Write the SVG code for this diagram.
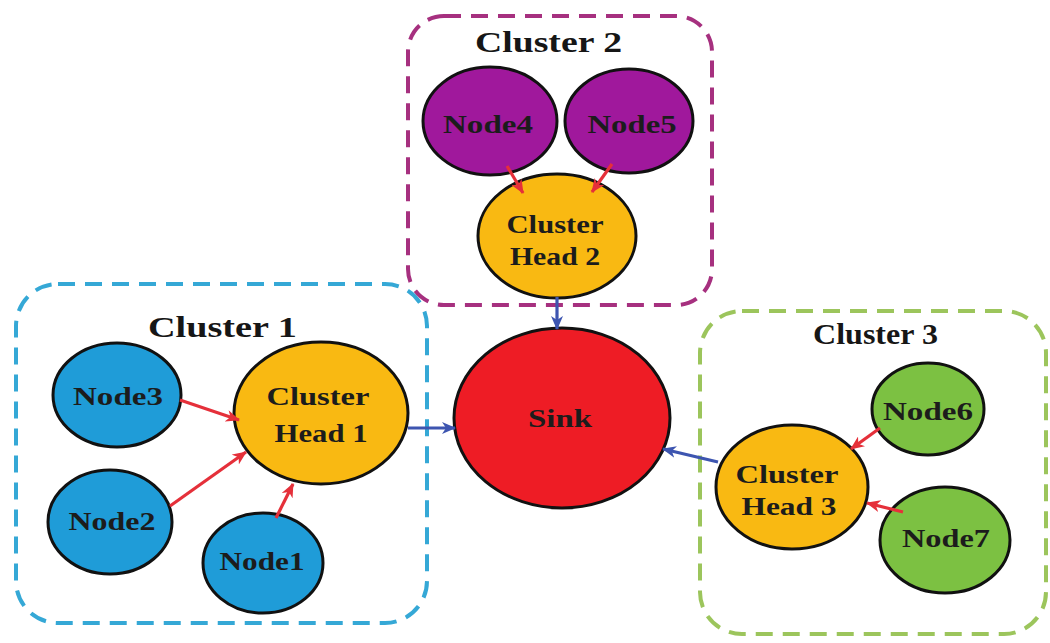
<svg xmlns="http://www.w3.org/2000/svg" width="1050" height="643" viewBox="0 0 1050 643">
  <style>
    .frame { fill: none; stroke-width: 4; stroke-dasharray: 17 10; }
    .node { stroke: #111; stroke-width: 3; }
    .title { font-family: "Liberation Serif", "Times New Roman", serif; font-weight: bold; font-size: 30px; fill: #161616; }
    .label { font-family: "Liberation Serif", "Times New Roman", serif; font-weight: bold; font-size: 25px; fill: #1c1c1c; text-anchor: middle; }
    .member { stroke: #e5303a; stroke-width: 3.2; fill: none; marker-end: url(#headRed); }
    .uplink { stroke: #3d55b0; stroke-width: 3.2; fill: none; marker-end: url(#headBlue); }
  </style>
  <defs>
    <marker id="headRed" markerUnits="userSpaceOnUse" markerWidth="14" markerHeight="12" refX="13" refY="6" orient="auto">
      <path d="M0,0 L14,6 L0,12 L4,6 Z" fill="#e5303a"/>
    </marker>
    <marker id="headBlue" markerUnits="userSpaceOnUse" markerWidth="14" markerHeight="12" refX="13" refY="6" orient="auto">
      <path d="M0,0 L14,6 L0,12 L4,6 Z" fill="#3d55b0"/>
    </marker>
  </defs>

  <rect width="1050" height="643" fill="#ffffff"/>

  <!-- cluster frames -->
  <g id="cluster1">
    <rect class="frame" x="16" y="284" width="411" height="339" rx="42" stroke="#35a8d6"/>
    <text class="title" x="148" y="337" textLength="149" lengthAdjust="spacingAndGlyphs">Cluster 1</text>
  </g>
  <g id="cluster2">
    <rect class="frame" x="408" y="16" width="304" height="289" rx="36" stroke="#a6307f"/>
    <text class="title" x="475" y="52" textLength="147" lengthAdjust="spacingAndGlyphs">Cluster 2</text>
  </g>
  <g id="cluster3">
    <rect class="frame" x="700" y="311" width="346" height="323" rx="42" stroke="#9cc55c"/>
    <text class="title" x="813" y="344" font-size="26" textLength="125" lengthAdjust="spacingAndGlyphs">Cluster 3</text>
  </g>

  <!-- nodes -->
  <g id="node4">
    <ellipse class="node" cx="490" cy="121" rx="67" ry="54" fill="#a0189c"/>
    <text class="label" x="488" y="133" textLength="90" lengthAdjust="spacingAndGlyphs">Node4</text>
  </g>
  <g id="node5">
    <ellipse class="node" cx="629" cy="121" rx="64" ry="52" fill="#a0189c"/>
    <text class="label" x="632" y="133" textLength="89" lengthAdjust="spacingAndGlyphs">Node5</text>
  </g>
  <g id="head2">
    <ellipse class="node" cx="557" cy="236" rx="79" ry="62" fill="#f9b912"/>
    <text class="label" x="555" y="233" textLength="97" lengthAdjust="spacingAndGlyphs">Cluster</text>
    <text class="label" x="555" y="265" textLength="90" lengthAdjust="spacingAndGlyphs">Head 2</text>
  </g>

  <g id="node3">
    <ellipse class="node" cx="117" cy="395" rx="64" ry="52" fill="#1f9cd8"/>
    <text class="label" x="118" y="405" textLength="90" lengthAdjust="spacingAndGlyphs">Node3</text>
  </g>
  <g id="node2">
    <ellipse class="node" cx="110" cy="522" rx="62" ry="52" fill="#1f9cd8"/>
    <text class="label" x="112" y="530" textLength="87" lengthAdjust="spacingAndGlyphs">Node2</text>
  </g>
  <g id="node1">
    <ellipse class="node" cx="263" cy="563" rx="60" ry="50" fill="#1f9cd8"/>
    <text class="label" x="262" y="570" textLength="85" lengthAdjust="spacingAndGlyphs">Node1</text>
  </g>
  <g id="head1">
    <ellipse class="node" cx="321" cy="413" rx="87" ry="71" fill="#f9b912"/>
    <text class="label" x="318" y="405" textLength="103" lengthAdjust="spacingAndGlyphs">Cluster</text>
    <text class="label" x="321" y="442" textLength="93" lengthAdjust="spacingAndGlyphs">Head 1</text>
  </g>

  <g id="sink">
    <ellipse class="node" cx="562" cy="418" rx="108" ry="90" fill="#ee1c25"/>
    <text class="label" x="560" y="427" textLength="64" lengthAdjust="spacingAndGlyphs" fill="#3a0a0a">Sink</text>
  </g>

  <g id="node6">
    <ellipse class="node" cx="928" cy="409" rx="56" ry="46" fill="#7cc142"/>
    <text class="label" x="928" y="420" textLength="90" lengthAdjust="spacingAndGlyphs">Node6</text>
  </g>
  <g id="node7">
    <ellipse class="node" cx="945" cy="540" rx="65" ry="53" fill="#7cc142"/>
    <text class="label" x="946" y="547" textLength="88" lengthAdjust="spacingAndGlyphs">Node7</text>
  </g>
  <g id="head3">
    <ellipse class="node" cx="792" cy="487" rx="76" ry="62" fill="#f9b912"/>
    <text class="label" x="787" y="483" textLength="103" lengthAdjust="spacingAndGlyphs">Cluster</text>
    <text class="label" x="789" y="515" textLength="95" lengthAdjust="spacingAndGlyphs">Head 3</text>
  </g>

  <!-- connectors -->
  <g id="connectors">
    <line class="member" x1="180" y1="400" x2="239" y2="420"/>
    <line class="member" x1="170" y1="506" x2="246" y2="452"/>
    <line class="member" x1="276" y1="518" x2="293" y2="484"/>
    <line class="member" x1="507" y1="166" x2="523" y2="193"/>
    <line class="member" x1="612" y1="164" x2="592" y2="192"/>
    <line class="member" x1="880" y1="428" x2="851" y2="449"/>
    <line class="member" x1="903" y1="512" x2="867" y2="503"/>
    <line class="uplink" x1="557" y1="297" x2="557" y2="329"/>
    <line class="uplink" x1="408" y1="428" x2="455" y2="428"/>
    <line class="uplink" x1="718" y1="462" x2="663" y2="449"/>
  </g>
</svg>
